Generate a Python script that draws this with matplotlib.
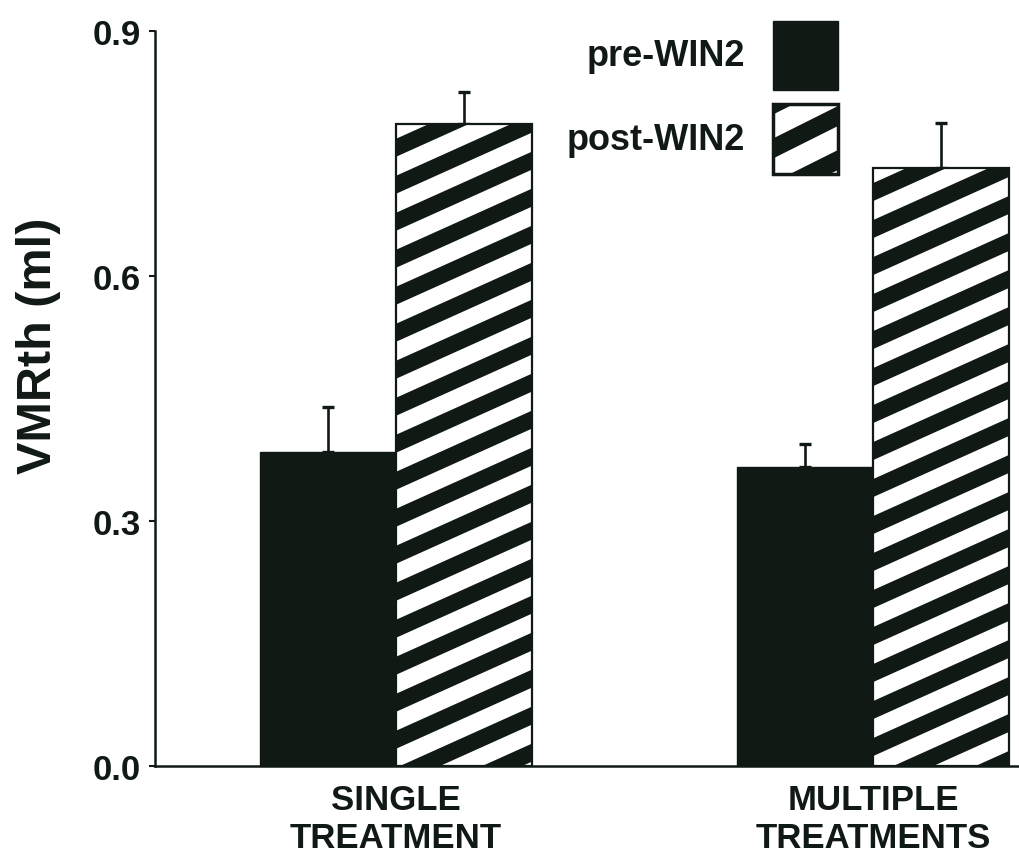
import numpy as np
import matplotlib
matplotlib.use("Agg")
import matplotlib.pyplot as plt
from matplotlib.collections import PolyCollection
from matplotlib.patches import Rectangle
from matplotlib.transforms import IdentityTransform

# values (VMR threshold, ml)
groups = ["SINGLE\nTREATMENT", "MULTIPLE\nTREATMENTS"]
pre_mean = [0.385, 0.366]
pre_err = [0.054, 0.028]
post_mean = [0.786, 0.732]
post_err = [0.039, 0.055]
series_names = ["pre-WIN2", "post-WIN2"]

ink = "#111915"
plt.rcParams["font.family"] = ["Liberation Sans", "DejaVu Sans"]
plt.rcParams["font.weight"] = "bold"


def add_stripes(target, patch, period=37.0, dark=18.0, slope=0.45, zorder=2.5):
    # diagonal black stripes in pixel space, clipped to the patch
    bb = patch.get_window_extent()
    b_lo = bb.y0 - slope * bb.x1 - dark
    b_hi = bb.y1 - slope * bb.x0
    k0 = int(np.floor(b_lo / period)) - 1
    k1 = int(np.ceil(b_hi / period)) + 1
    polys = []
    for k in range(k0, k1 + 1):
        b = k * period
        polys.append([(bb.x0, slope * bb.x0 + b), (bb.x1, slope * bb.x1 + b),
                      (bb.x1, slope * bb.x1 + b + dark), (bb.x0, slope * bb.x0 + b + dark)])
    coll = PolyCollection(polys, facecolors=ink, edgecolors="none",
                          transform=IdentityTransform(), zorder=zorder)
    if hasattr(target, "add_collection"):
        target.add_collection(coll, autolim=False)
    else:
        target.add_artist(coll)
    # set after adding, otherwise the axes patch replaces it
    coll.set_clip_path(patch.get_path(), patch.get_transform())


fig = plt.figure(figsize=(10.19, 8.54), dpi=100)
ax = fig.add_axes([155 / 1019, 87 / 854, 864 / 1019, 735 / 854])

x = np.arange(len(groups))
w = 0.285
pre_bars = ax.bar(x - w / 2, pre_mean, w, color=ink, edgecolor=ink, linewidth=1, zorder=2)
post_bars = ax.bar(x + w / 2, post_mean, w, color="white", edgecolor=ink, linewidth=1.6, zorder=2)

ax.errorbar(x - w / 2, pre_mean, yerr=[np.zeros(len(x)), pre_err], fmt="none",
            ecolor=ink, elinewidth=1.9, capsize=4, capthick=2.4, zorder=1)
ax.errorbar(x + w / 2, post_mean, yerr=[np.zeros(len(x)), post_err], fmt="none",
            ecolor=ink, elinewidth=1.9, capsize=4, capthick=2.4, zorder=1)

ax.set_xlim(-0.505, 1.306)
ax.set_ylim(0, 0.9)
ax.set_yticks([0.0, 0.3, 0.6, 0.9])
ax.set_yticklabels(["0.0", "0.3", "0.6", "0.9"])
ax.set_xticks(x)
ax.set_xticklabels(groups)
ax.tick_params(axis="y", length=4, width=1.5, pad=6, labelsize=25, colors=ink)
ax.tick_params(axis="x", length=0, pad=12, labelsize=25, colors=ink)
for lab in ax.get_xticklabels() + ax.get_yticklabels():
    lab.set_fontweight("bold")
for s in ["top", "right"]:
    ax.spines[s].set_visible(False)
for s in ["left", "bottom"]:
    ax.spines[s].set_linewidth(1.8)
    ax.spines[s].set_color(ink)

ax.set_ylabel("VMRth (ml)", fontsize=35, fontweight="bold", color=ink, va="center")
ax.yaxis.set_label_coords(-0.135, 0.573)

for bar in post_bars:
    add_stripes(ax, bar)

# legend, drawn by hand to the right of the labels
fig.text(745 / 1019, 1 - 57 / 854, series_names[0], ha="right", va="center",
         fontsize=26, fontweight="bold", color=ink)
fig.text(745 / 1019, 1 - 140 / 854, series_names[1], ha="right", va="center",
         fontsize=26, fontweight="bold", color=ink)
box_pre = Rectangle((773 / 1019, 1 - 91 / 854), 65 / 1019, 69 / 854, transform=fig.transFigure,
                    facecolor=ink, edgecolor=ink, linewidth=1)
box_post = Rectangle((773 / 1019, 1 - 175 / 854), 65 / 1019, 70 / 854, transform=fig.transFigure,
                     facecolor="white", edgecolor=ink, linewidth=2.5)
fig.add_artist(box_pre)
fig.add_artist(box_post)
add_stripes(fig, box_post, period=44.0, dark=20.0, slope=0.5, zorder=3)

fig.savefig("out.png", dpi=100)
